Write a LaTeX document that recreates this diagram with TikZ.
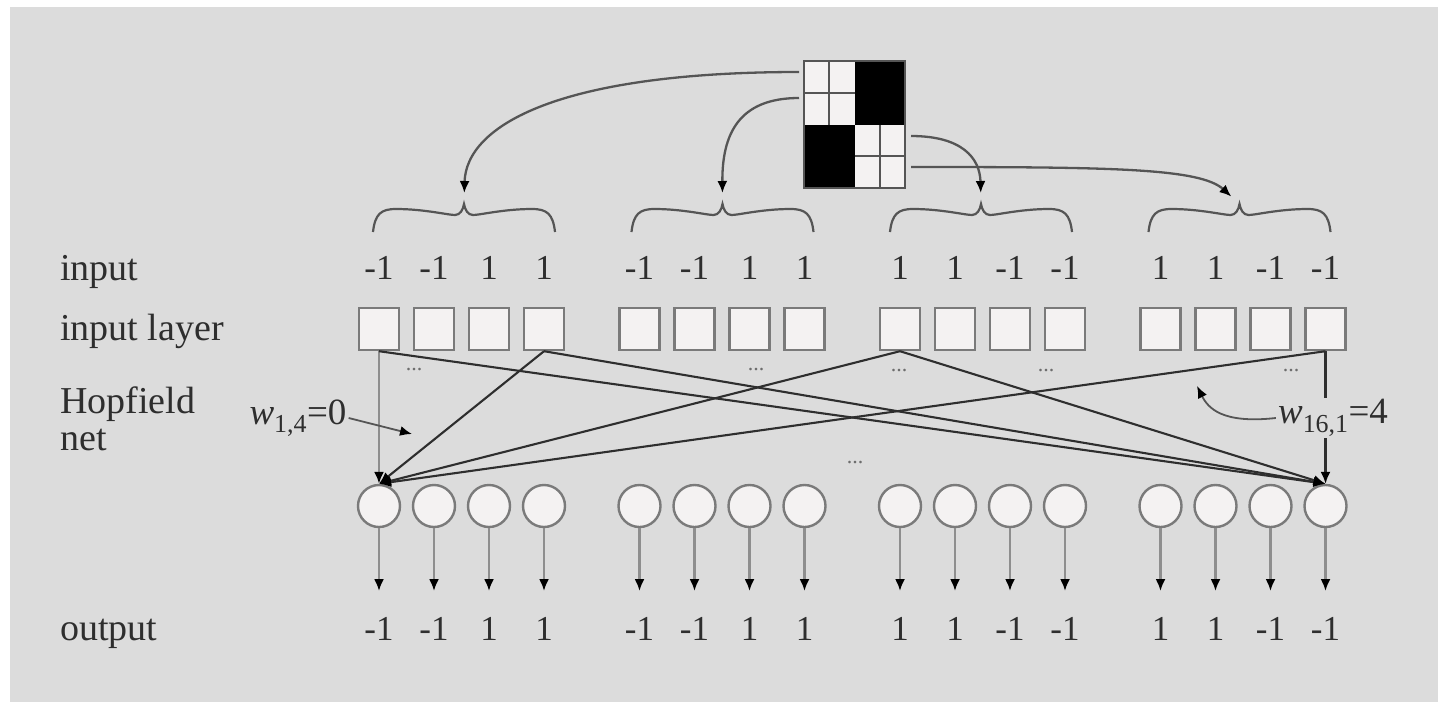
\documentclass[tikz,border=0pt]{standalone}
\usepackage{fontspec}
\setmainfont{Liberation Serif}
\usetikzlibrary{arrows.meta}

\definecolor{paper}{HTML}{DCDCDC}
\definecolor{ink}{HTML}{2E2E2E}
\definecolor{boxgray}{HTML}{7A7A7A}
\definecolor{boxfill}{HTML}{F4F2F2}
\definecolor{wiregray}{HTML}{8E8E8E}
\definecolor{gridgray}{HTML}{555555}

\newcommand\diaglabelfont{\fontsize{38}{42}\selectfont}
\newcommand\diagvalfont{\fontsize{35}{40}\selectfont}
\newcommand\diagdotfont{\fontsize{22}{24}\selectfont}
\newcommand\diagweightfont{\fontsize{37}{40}\selectfont}

\tikzset{
  cellbox/.style={draw=boxgray, line width=2.4pt, fill=boxfill,
    minimum width=40pt, minimum height=42pt, inner sep=0pt},
  neuron/.style={circle, draw=boxgray, line width=2.4pt, fill=boxfill,
    minimum size=42pt, inner sep=0pt},
  val/.style={font=\diagvalfont, text=ink, anchor=base, inner sep=0pt},
  rowlabel/.style={font=\diaglabelfont, text=ink, anchor=base west, inner sep=0pt},
  dotsnode/.style={font=\diagdotfont, text=ink!70, inner sep=0pt},
  weight/.style={font=\diagweightfont, text=ink, inner sep=2pt},
  tip/.style={-{Latex[length=12pt,width=10pt,color=black]}},
  wire/.style={draw=ink, line width=2.1pt, tip},
  softwire/.style={draw=wiregray, line width=2.6pt, tip},
  outwire/.style={draw=wiregray, line width=2.2pt, -{Latex[length=12pt,width=10pt,color=black]}},
  curvearrow/.style={draw=gridgray, line width=2.3pt, tip, shorten >=11pt},
  bracestyle/.style={draw=gridgray, line width=2.2pt},
  gridline/.style={draw=gridgray, line width=2.4pt},
  leader/.style={draw=gridgray, line width=1.8pt, tip},
}

\begin{document}
\begin{tikzpicture}[x=1pt,y=-1pt]
  % paper
  \useasboundingbox (0,0) rectangle (1438,702);
  \fill[white] (0,0) rectangle (1438,702);
  \fill[paper] (10,7) rectangle (1438,702);

  % 4x4 pattern
  \node[minimum width=101pt, minimum height=127pt, inner sep=0pt, fill=boxfill] (pattern) at (854.5,124.5) {};
  \fill[black] (854.5,61) rectangle (905,124.5);
  \fill[black] (804,124.5) rectangle (854.5,188);
  \draw[gridline] (829.25,61) -- (829.25,124.5);
  \draw[gridline] (804,92.75) -- (854.5,92.75);
  \draw[gridline] (879.75,124.5) -- (879.75,188);
  \draw[gridline] (854.5,156.25) -- (905,156.25);
  \draw[gridline] (pattern.north west) rectangle (pattern.south east);

  \coordinate (r1) at (799,72);
  \coordinate (r2) at (799,98);
  \coordinate (r3) at (911,136);
  \coordinate (r4) at (911,167);

  % braces over the four groups
  \foreach \g in {0,...,3}{
    \pgfmathsetmacro\cx{464+258.5*\g}
    \coordinate (b\g) at (\cx,204);
    \begin{scope}[shift={(\cx,0)}]
      \draw[bracestyle] (-91,232) .. controls (-89,214) and (-83,209) .. (-68,209)
        .. controls (-40,209) and (-16,215) .. (-9,215)
        .. controls (-4,215) and (-1,210) .. (0,204)
        .. controls (1,210) and (4,215) .. (9,215)
        .. controls (16,215) and (40,209) .. (68,209)
        .. controls (83,209) and (89,214) .. (91,232);
    \end{scope}
  }

  \draw[curvearrow] (r1) .. controls (560,72) and (466,125) .. (b0);
  \draw[curvearrow] (r2) .. controls (738,98) and (722,135) .. (b1);
  \draw[curvearrow] (r3) .. controls (962,136) and (980,158) .. (b2);
  \draw[curvearrow] (r4) .. controls (1110,167) and (1200,168) .. (b3);

  % row labels
  \node[rowlabel] (linput) at (60,280) {input};
  \node[rowlabel] (llayer) at (60,340) {input layer};
  \node[rowlabel] (lhop) at (60,413) {Hopfield};
  \node[rowlabel] (lnet) at (60,450) {net};
  \node[rowlabel] (lout) at (60,640) {output};

  % units, values and output arrows
  \foreach \k/\v in {1/-1,2/-1,3/1,4/1,5/-1,6/-1,7/1,8/1,9/1,10/1,11/-1,12/-1,13/1,14/1,15/-1,16/-1}{
    \pgfmathsetmacro\ux{379+260.5*int((\k-1)/4)+55*mod(\k-1,4)}
    \node[val] (i\k) at (\ux,279) {\v};
    \node[cellbox] (s\k) at (\ux,329) {};
    \node[neuron] (c\k) at (\ux,506) {};
    \coordinate (e\k) at (\ux,591);
    \node[val] (o\k) at (\ux,640) {\v};
    \draw[outwire] (c\k.south) -- (e\k);
  }

  % ellipses between units
  \node[dotsnode] (d1) at (414,370) {...};
  \node[dotsnode] (d2) at (756,370) {...};
  \node[dotsnode] (d3) at (899,371) {...};
  \node[dotsnode] (d4) at (1046,371) {...};
  \node[dotsnode] (d5) at (1291,371) {...};
  \node[dotsnode] (d6) at (855,463) {...};

  % Hopfield connections
  \draw[softwire] (s1.south) -- (c1.north);
  \draw[wire] (s4.south) -- (c1.north);
  \draw[wire] (s9.south) -- (c1.north);
  \draw[wire] (s16.south) -- (c1.north);
  \draw[wire] (s1.south) -- (c16.north);
  \draw[wire] (s4.south) -- (c16.north);
  \draw[wire] (s9.south) -- (c16.north);
  \draw[wire] (s16.south) -- (c16.north);

  % weight annotations
  \node[weight] (w14) at (298,418) {{\itshape w}\textsubscript{1,4}=0};
  \coordinate (w14t) at (412,434);
  \draw[leader] (w14.east) -- (w14t);

  \node[weight, fill=paper] (w161) at (1333,418) {{\itshape w}\textsubscript{16,1}=4};
  \coordinate (w161t) at (1197,386);
  \draw[leader] (w161.west) .. controls (1222,424) and (1208,408) .. (w161t);
\end{tikzpicture}
\end{document}
